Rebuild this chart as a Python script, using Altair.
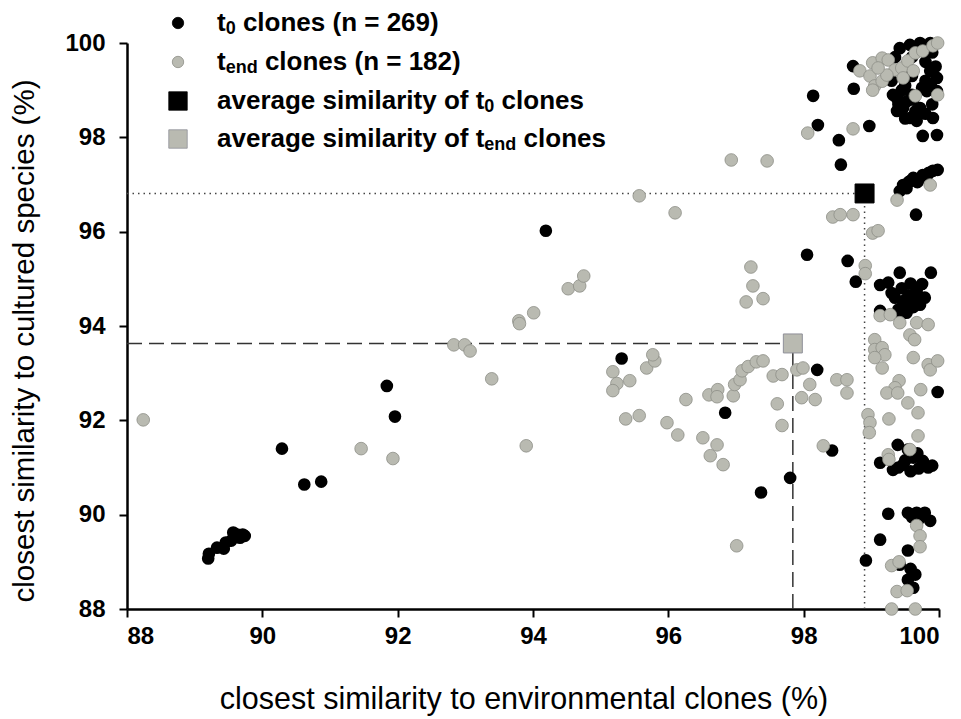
import altair as alt
import pandas as pd

FONT = "Liberation Sans"

# ---- t0 clones (black) ----
t0_x = [89.20, 89.21, 89.33, 89.43, 89.54, 89.57, 89.63, 89.71, 89.74, 89.46, 89.67,
        90.29, 90.62, 90.87, 91.84, 91.96,
        94.19, 95.31, 96.84, 97.80, 97.37, 98.20, 98.05, 98.65, 98.77, 98.42, 98.92, 99.66, 99.98,
        99.42, 99.88, 99.13, 99.25, 99.75, 99.35, 99.47, 99.57, 99.69, 99.79, 99.13, 99.52, 99.67, 99.60, 99.40,
        99.30, 99.45, 99.55, 99.62, 99.72, 99.50, 99.58, 99.44,
        99.39, 99.13, 99.32, 99.47, 99.62, 99.76, 99.90, 99.54, 99.40, 99.70, 99.50, 99.58, 99.68, 99.84,
        99.25, 99.54, 99.67, 99.79, 99.87, 99.13, 99.54, 99.65, 99.54, 99.62, 99.42, 99.60, 99.70, 99.74, 99.58,
        98.73, 98.74, 98.97, 98.52, 98.55, 99.76, 99.97, 99.38, 99.47, 99.57, 99.67, 99.87, 99.97,
        99.42, 99.57, 99.72, 99.87, 99.82, 99.97, 99.72, 99.53, 99.38, 99.32, 99.91, 98.14, 98.21,
        99.47, 99.62, 99.76, 99.91, 99.98, 99.42, 99.52, 99.68, 99.84, 99.58,
        99.30, 99.50, 99.60, 99.80, 99.90, 99.70, 99.50, 99.60, 99.80, 99.90, 99.60, 99.50, 99.80,
        99.40, 99.70, 99.55, 99.85, 99.45, 99.65, 99.75, 99.95, 99.35, 99.62, 99.78, 99.88, 99.68]
t0_y = [89.07, 89.17, 89.30, 89.28, 89.45, 89.62, 89.58, 89.58, 89.55, 89.41, 89.51,
        91.40, 90.64, 90.70, 92.73, 92.08,
        96.02, 93.31, 92.16, 90.78, 90.47, 93.07, 95.51, 95.38, 94.94, 91.36, 89.03, 96.36, 92.60,
        95.13, 95.13, 94.87, 94.92, 94.89, 94.60, 94.45, 94.39, 94.60, 94.60, 94.32, 94.28, 94.75, 94.50, 94.35,
        94.70, 94.80, 94.65, 94.40, 94.45, 94.55, 94.90, 94.25,
        91.48, 91.10, 90.95, 91.06, 91.21, 91.14, 91.04, 91.38, 91.00, 90.98, 91.15, 90.92, 91.30, 91.00,
        90.02, 90.04, 90.04, 90.04, 89.87, 89.47, 89.24, 88.73, 88.62, 88.45, 88.94, 89.95, 89.90, 90.00, 88.85,
        99.51, 99.03, 98.24, 97.94, 97.42, 98.03, 98.05, 98.83, 98.62, 98.41, 98.35, 99.41, 99.26,
        99.89, 99.96, 100.0, 100.0, 98.98, 98.98, 98.62, 98.77, 98.56, 98.90, 98.41, 98.88, 98.26,
        96.99, 97.14, 97.20, 97.29, 97.31, 96.86, 96.92, 97.05, 97.22, 97.08,
        99.20, 99.10, 99.30, 99.60, 99.80, 99.90, 99.50, 99.70, 99.20, 98.70, 98.90, 98.40, 98.50,
        98.70, 97.10, 97.05, 97.25, 99.00, 98.55, 99.05, 99.50, 99.70, 98.80, 99.85, 99.10, 98.45]

# ---- t_end clones (grey) ----
tend_x = [88.24, 91.46, 91.93, 92.83, 92.99, 93.07, 93.39, 93.79, 93.80, 94.01, 93.90,
          94.52, 94.69, 94.75, 95.57, 96.10, 96.93, 97.46, 97.22, 97.25, 97.15, 97.40, 98.06,
          95.18, 95.24, 95.43, 95.18, 95.68, 95.80, 95.77, 96.26, 95.37, 95.57, 95.98, 96.14,
          96.51, 96.72, 96.62, 96.60, 96.73, 96.72, 96.96, 96.98, 97.06, 97.09, 97.18, 97.30,
          97.40, 97.55, 97.68, 97.61, 97.68, 97.90, 97.99, 98.09, 97.97, 98.17, 98.29, 97.01, 96.81,
          98.49, 98.64, 98.64,
          99.05, 99.05, 99.16, 99.20, 99.05, 99.16, 99.13, 99.28, 99.42, 99.67, 99.84, 99.57,
          99.64, 99.62, 99.84, 99.87, 99.98, 99.41, 99.35, 99.23, 99.39, 99.73, 99.54, 99.69,
          99.26, 98.95, 98.98, 98.97, 99.69, 99.57, 99.25, 99.26,
          99.67, 99.72, 99.72, 99.30, 99.41, 99.38, 99.53, 99.30, 99.65,
          99.38, 99.87, 98.43, 98.54, 98.73, 99.02, 99.10, 98.91, 98.91,
          98.73, 98.83, 98.98, 99.02, 99.16, 99.25, 99.05, 99.16, 99.02, 99.35, 99.45, 99.54,
          99.65, 99.76, 99.91, 99.98, 99.62, 99.47, 99.23, 99.65, 99.98, 99.10]
tend_y = [92.01, 91.40, 91.19, 93.60, 93.60, 93.47, 92.88, 94.11, 94.05, 94.28, 91.46,
          94.79, 94.85, 95.06, 96.76, 96.40, 97.52, 97.50, 95.25, 94.85, 94.51, 94.58, 98.09,
          93.03, 92.78, 92.84, 92.63, 93.11, 93.26, 93.39, 92.44, 92.03, 92.10, 91.95, 91.69,
          91.63, 91.48, 91.25, 92.54, 92.65, 92.50, 92.52, 92.76, 92.86, 93.05, 93.14, 93.24,
          93.26, 92.94, 92.97, 92.35, 91.89, 93.07, 93.11, 92.76, 92.48, 92.44, 91.46, 89.34, 91.06,
          92.86, 92.86, 92.58,
          93.71, 93.50, 93.54, 93.39, 93.33, 93.11, 94.22, 94.24, 94.07, 94.07, 94.03, 93.81,
          93.71, 93.33, 93.18, 93.07, 93.26, 92.84, 92.69, 92.58, 92.58, 92.65, 92.37, 92.16,
          92.03, 92.12, 91.95, 91.74, 91.67, 91.38, 91.27, 91.17,
          89.77, 89.55, 89.32, 88.92, 89.00, 88.37, 88.39, 88.00, 88.00,
          96.67, 96.99, 96.31, 96.36, 96.36, 95.97, 96.02, 95.28, 95.11,
          98.18, 99.41, 99.30, 99.58, 99.68, 99.64, 99.09, 99.19, 99.00, 99.43, 99.47, 99.62,
          99.79, 99.83, 99.94, 100.0, 99.41, 99.26, 99.32, 98.88, 98.90, 99.47]

# ---- averages ----
avg_group = ["t0", "tend"]
avg_x = [98.90, 97.84]
avg_y = [96.81, 93.63]

axis_ticks = [88, 90, 92, 94, 96, 98, 100]
x_title = "closest similarity to environmental clones (%)"
y_title = "closest similarity to cultured species (%)"

GREY_FILL = "#b9bab1"
GREY_STROKE = "#8d8e87"

df_t0 = pd.DataFrame({"x": t0_x, "y": t0_y})
df_tend = pd.DataFrame({"x": tend_x, "y": tend_y})
df_avg = pd.DataFrame({"group": avg_group, "x": avg_x, "y": avg_y,
                       "x0": [axis_ticks[0]] * 2, "y0": [axis_ticks[0]] * 2})

xs = alt.Scale(domain=[axis_ticks[0], axis_ticks[-1]], nice=False, zero=False)
ys = alt.Scale(domain=[axis_ticks[0], axis_ticks[-1]], nice=False, zero=False)

X = alt.X("x:Q", scale=xs, axis=alt.Axis(values=axis_ticks, format="d", title=None, labelPadding=7))
Y = alt.Y("y:Q", scale=ys, axis=alt.Axis(values=axis_ticks, format="d", title=None, labelPadding=14))

def avg_rules(group, dash, color):
    d = df_avg[df_avg.group == group]
    h = alt.Chart(d).mark_rule(strokeDash=dash, strokeWidth=1.5, color=color).encode(
        x=alt.X("x0:Q", scale=xs), x2="x:Q", y=alt.Y("y:Q", scale=ys))
    v = alt.Chart(d).mark_rule(strokeDash=dash, strokeWidth=1.5, color=color).encode(
        x=alt.X("x:Q", scale=xs), y=alt.Y("y0:Q", scale=ys), y2="y:Q")
    return h + v

rules_t0 = avg_rules("t0", [1.5, 4], "#444444")
rules_tend = avg_rules("tend", [15, 7], "#333333")

pts_t0 = alt.Chart(df_t0).mark_circle(size=160, color="black", opacity=1).encode(x=X, y=Y)
pts_tend = alt.Chart(df_tend).mark_circle(size=160, fill=GREY_FILL, stroke=GREY_STROKE,
                                          strokeWidth=0.8, opacity=1).encode(x=X, y=Y)
sq = alt.Chart(df_avg).mark_square(size=360, opacity=1, strokeWidth=1).encode(
    x=X, y=Y,
    fill=alt.Fill("group:N", scale=alt.Scale(domain=avg_group, range=["black", GREY_FILL]), legend=None),
    stroke=alt.Stroke("group:N", scale=alt.Scale(domain=avg_group, range=["black", "#8f9099"]), legend=None))

one = pd.DataFrame({"k": [0]})

# ---- axis titles as text marks ----
titles = (
    alt.Chart(one).mark_text(text=x_title, align="center", baseline="middle", font=FONT,
                             fontSize=30.5, color="black").encode(x=alt.value(397), y=alt.value(657))
    + alt.Chart(one).mark_text(text=y_title, align="center", baseline="middle", font=FONT,
                               fontSize=29.5, color="black", angle=270).encode(x=alt.value(-102), y=alt.value(298))
)

# ---- hand-made legend (with subscripts) ----
LX, TX = 51, 90
ROWS = [-20, 19, 58, 96]
FS, SFS, SUB = 26, 18, 6

def txt(s, x, y, size):
    return alt.Chart(one).mark_text(text=s, align="left", baseline="middle", font=FONT,
                                    fontWeight="bold", fontSize=size, color="black").encode(
        x=alt.value(x), y=alt.value(y))

def sym(shape, y, fill, stroke, size):
    return alt.Chart(one).mark_point(shape=shape, filled=True, fill=fill, stroke=stroke,
                                     strokeWidth=0.8, size=size, opacity=1).encode(
        x=alt.value(LX), y=alt.value(y))

w_t = 0.333 * FS
w_avg = 10.282 * FS
w_sp = 0.278 * FS
w0 = 0.556 * SFS
wend = 1.778 * SFS

legend = (
    sym("circle", ROWS[0], "black", "black", 130)
    + txt("t", TX, ROWS[0], FS) + txt("0", TX + w_t, ROWS[0] + SUB, SFS)
    + txt("clones (n = 269)", TX + w_t + w0 + w_sp, ROWS[0], FS)
    + sym("circle", ROWS[1], GREY_FILL, GREY_STROKE, 130)
    + txt("t", TX, ROWS[1], FS) + txt("end", TX + w_t, ROWS[1] + SUB, SFS)
    + txt("clones (n = 182)", TX + w_t + wend + w_sp, ROWS[1], FS)
    + sym("square", ROWS[2], "black", "black", 340)
    + txt("average similarity of t", TX, ROWS[2], FS) + txt("0", TX + w_avg, ROWS[2] + SUB, SFS)
    + txt("clones", TX + w_avg + w0 + w_sp, ROWS[2], FS)
    + sym("square", ROWS[3], GREY_FILL, "#8f9099", 340)
    + txt("average similarity of t", TX, ROWS[3], FS) + txt("end", TX + w_avg, ROWS[3] + SUB, SFS)
    + txt("clones", TX + w_avg + wend + w_sp, ROWS[3], FS)
)

chart = alt.layer(rules_t0, rules_tend, pts_t0, pts_tend, sq, titles, legend).properties(
    width=812, height=566,
    autosize=alt.AutoSizeParams(type="none"),
    padding={"left": 127, "top": 43, "right": 22, "bottom": 110},
    background="white",
).configure_view(stroke=None).configure_axis(
    grid=False, domainColor="black", domainWidth=2.5, tickColor="black", tickWidth=2,
    tickSize=8, labelFont=FONT, labelFontWeight="bold", labelFontSize=24, labelColor="black",
)

chart.save("out.html", embed_options={"renderer": "svg", "actions": False})
